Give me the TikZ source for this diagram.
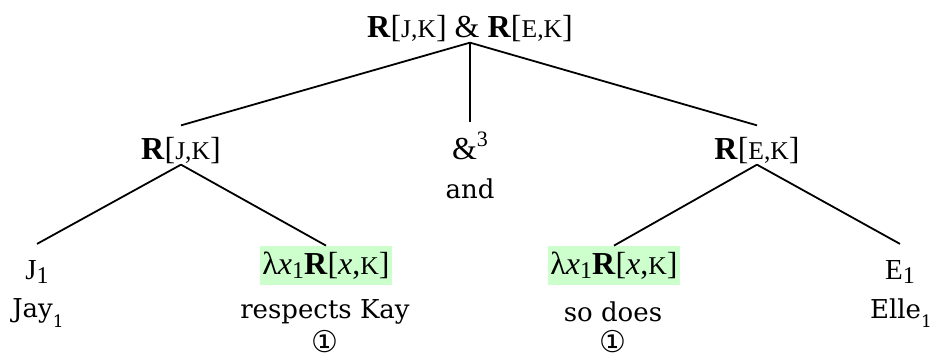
\documentclass[tikz,border=0pt]{standalone}
\usepackage{fontspec}
\setmainfont{Liberation Serif}
\newfontfamily\wordfont{DejaVu Serif}
\newfontfamily\circfont{DejaVu Sans}
\definecolor{hilite}{HTML}{CCFFCC}
% small capitals and lowered indices
\newcommand{\sml}[1]{{\fontsize{12.8}{14}\selectfont #1}}
\newcommand{\idx}[1]{\raisebox{-0.3ex}{\fontsize{12}{13}\selectfont #1}}
\newcommand{\wsub}[1]{\raisebox{-0.7ex}{\fontsize{8.5}{9}\selectfont #1}}
\tikzset{
  sem/.style={inner sep=0pt, font=\fontsize{16}{18}\selectfont},
  word/.style={inner sep=0pt, font=\wordfont\fontsize{13}{15}\selectfont},
  circ/.style={inner sep=0pt, font=\circfont\fontsize{15}{16}\selectfont},
  hl/.style={sem, fill=hilite, inner xsep=1pt, minimum height=19.5pt},
  branch/.style={black, line width=0.9pt}
}
\begin{document}
\begin{tikzpicture}[x=0.5pt,y=-0.5pt]
	\useasboundingbox (0,0) rectangle (934,361);
	% top
	\node[sem] (root) at (470,29) {\textbf{R}[\sml{J,K}] \& \textbf{R}[\sml{E,K}]};
	% middle row
	\node[sem] (rjk) at (181,151) {\textbf{R}[\sml{J,K}]};
	\node[sem] (amp) at (470,146) {\&\raisebox{0.85ex}{\fontsize{11}{12}\selectfont 3}};
	\node[word] (and) at (470,189) {and};
	\node[sem] (rek) at (757,151) {\textbf{R}[\sml{E,K}]};
	% bottom row
	\node[sem] (j1) at (37,272) {{\fontsize{14.5}{16}\selectfont J}\idx{1}};
	\node[word] (jay) at (38,313) {Jay\wsub{1}};
	\node[hl] (laml) at (326,265.5) {λ\textit{x}\idx{1}\textbf{R}[\textit{x},\sml{K}]};
	\node[word] (resp) at (325,312) {respects Kay};
	\node[circ] (onel) at (325,342) {①};
	\node[hl] (lamr) at (614,265.5) {λ\textit{x}\idx{1}\textbf{R}[\textit{x},\sml{K}]};
	\node[word] (sodoes) at (613,312) {so does};
	\node[circ] (oner) at (613,342) {①};
	\node[sem] (e1) at (900,272) {{\fontsize{14.5}{16}\selectfont E}\idx{1}};
	\node[word] (elle) at (901,313) {Elle\wsub{1}};
	% branches
	\draw[branch] (root.south) -- ([yshift=6pt]rjk.north);
	\draw[branch] (root.south) -- ([yshift=5pt]amp.north);
	\draw[branch] (root.south) -- ([yshift=6pt]rek.north);
	\draw[branch] (rjk.south) -- ([yshift=8pt]j1.north);
	\draw[branch] (rjk.south) -- (laml.north);
	\draw[branch] (rek.south) -- (lamr.north);
	\draw[branch] (rek.south) -- ([yshift=8pt]e1.north);
\end{tikzpicture}
\end{document}
